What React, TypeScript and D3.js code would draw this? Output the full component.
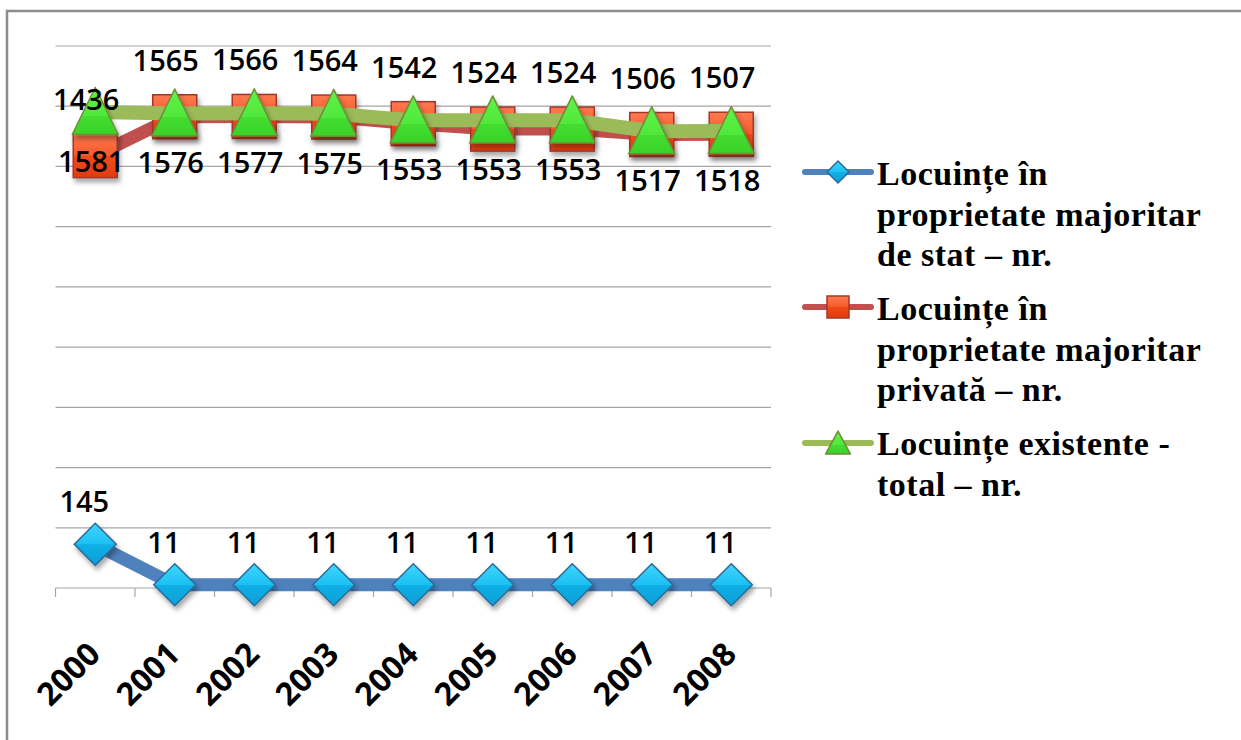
import React from 'react';
import * as d3 from 'd3';

const years = ['2000', '2001', '2002', '2003', '2004', '2005', '2006', '2007', '2008'];
const stateOwned = [145, 11, 11, 11, 11, 11, 11, 11, 11];
const privateOwned = [1436, 1565, 1566, 1564, 1542, 1524, 1524, 1506, 1507];
const totalDwellings = [1581, 1576, 1577, 1575, 1553, 1553, 1553, 1517, 1518];
const yTicks = [0, 200, 400, 600, 800, 1000, 1200, 1400, 1600, 1800];
const legendState = ['Locuințe în', 'proprietate majoritar', 'de stat – nr.'];
const legendPrivate = ['Locuințe în', 'proprietate majoritar', 'privată – nr.'];
const legendTotal = ['Locuințe existente -', 'total – nr.'];

const W = 1241;
const H = 740;
const plot = { left: 55.5, right: 771, top: 46, bottom: 588 };

const x = d3.scaleBand<string>().domain(years).range([plot.left, plot.right]).paddingInner(0).paddingOuter(0);
const y = d3.scaleLinear().domain([0, 1800]).range([plot.bottom, plot.top]);
const cx = (d: string) => (x(d) as number) + x.bandwidth() / 2;

const line = d3
  .line<number>()
  .x((_, i) => cx(years[i]))
  .y((v) => y(v));

const labelFont = '"Open Sans", "Liberation Sans", sans-serif';
const legendFont = '"Liberation Serif", "Times New Roman", serif';

function Diamond({ px, py, r, shadow }: { px: number; py: number; r: number; shadow?: boolean }) {
  const p = `M${px},${py - r}L${px + r},${py}L${px},${py + r}L${px - r},${py}Z`;
  return <path d={p} fill="url(#gBlue)" stroke="#2d6a98" strokeWidth={1.5} filter={shadow ? 'url(#shadow)' : undefined} />;
}
function Square({ px, py, s, shadow }: { px: number; py: number; s: number; shadow?: boolean }) {
  return (
    <rect x={px - s / 2} y={py - s / 2} width={s} height={s} fill="url(#gRed)" stroke="#a0382a" strokeWidth={1.5} filter={shadow ? 'url(#shadow)' : undefined} />
  );
}
function Triangle({ px, py, w, h, shadow }: { px: number; py: number; w: number; h: number; shadow?: boolean }) {
  const p = `M${px},${py - h * 0.52}L${px + w / 2},${py + h * 0.48}L${px - w / 2},${py + h * 0.48}Z`;
  return <path d={p} fill="url(#gGreen)" stroke="#6f8c36" strokeWidth={1.5} strokeLinejoin="round" filter={shadow ? 'url(#shadow)' : undefined} />;
}

export default function App() {
  const legendX = 805;
  const legendTextX = 877;
  return (
    <svg width={W} height={H} style={{ position: 'absolute', left: 0, top: 0, background: '#fff' }}>
      <defs>
        <filter id="shadow" x="-30%" y="-30%" width="170%" height="170%">
          <feDropShadow dx="2" dy="4" stdDeviation="2.5" floodColor="#000" floodOpacity="0.35" />
        </filter>
        <linearGradient id="gBlue" x1="0" y1="0" x2="0" y2="1">
          <stop offset="0" stopColor="#3fd6ff" />
          <stop offset="0.5" stopColor="#1cc0f2" />
          <stop offset="0.5" stopColor="#12b0e6" />
          <stop offset="1" stopColor="#0a9fd8" />
        </linearGradient>
        <linearGradient id="gRed" x1="0" y1="0" x2="0" y2="1">
          <stop offset="0" stopColor="#ff7a50" />
          <stop offset="0.5" stopColor="#f75a2a" />
          <stop offset="0.5" stopColor="#f04a18" />
          <stop offset="1" stopColor="#e23c10" />
        </linearGradient>
        <linearGradient id="gGreen" x1="0" y1="0" x2="0" y2="1">
          <stop offset="0" stopColor="#62f24a" />
          <stop offset="0.6" stopColor="#4fe83a" />
          <stop offset="0.6" stopColor="#44dd30" />
          <stop offset="1" stopColor="#3ad22a" />
        </linearGradient>
      </defs>

      {/* outer frame */}
      <rect x={7} y={11} width={1300} height={800} fill="#fff" stroke="#8c8c8c" strokeWidth={2.5} />

      {/* gridlines */}
      {yTicks.map((t) => (
        <line key={t} x1={plot.left} x2={plot.right} y1={y(t)} y2={y(t)} stroke="#a6a6a6" strokeWidth={1.2} />
      ))}
      {/* x ticks */}
      {[...years.map((d) => x(d) as number), plot.right].map((tx, i) => (
        <line key={i} x1={tx} x2={tx} y1={plot.bottom} y2={plot.bottom + 9} stroke="#a6a6a6" strokeWidth={1.2} />
      ))}
      {/* x labels */}
      {years.map((d) => (
        <text
          key={d}
          transform={`translate(${cx(d) + 7},${plot.bottom + 68}) rotate(-45)`}
          textAnchor="end"
          fontFamily={labelFont}
          fontWeight={700}
          fontSize={32}
          fill="#000"
        >
          {d}
        </text>
      ))}

      {/* state series */}
      <path d={line(stateOwned) || ''} fill="none" stroke="#4f81bd" strokeWidth={13} strokeLinejoin="round" />
      {stateOwned.map((v, i) => (
        <Diamond key={i} px={cx(years[i])} py={y(v)} r={21} shadow />
      ))}
      {/* private series */}
      <path d={line(privateOwned) || ''} fill="none" stroke="#c0504d" strokeWidth={13} strokeLinejoin="round" />
      {privateOwned.map((v, i) => (
        <Square key={i} px={cx(years[i])} py={y(v)} s={44} shadow />
      ))}
      {/* total series */}
      <path d={line(totalDwellings) || ''} fill="none" stroke="#9bbb59" strokeWidth={14} strokeLinejoin="round" />
      {totalDwellings.map((v, i) => (
        <Triangle key={i} px={cx(years[i])} py={y(v)} w={46} h={47} shadow />
      ))}

      {/* data labels */}
      {stateOwned.map((v, i) => (
        <text key={'s' + i} x={cx(years[i]) - 11} y={y(v) - 32} textAnchor="middle" fontFamily={labelFont} fontSize={29} fontWeight={600} fill="#000">
          {v}
        </text>
      ))}
      {privateOwned.map((v, i) => (
        <text key={'p' + i} x={cx(years[i]) - 9} y={y(v) - 46} textAnchor="middle" fontFamily={labelFont} fontSize={29} fontWeight={600} fill="#000">
          {v}
        </text>
      ))}
      {totalDwellings.map((v, i) => (
        <text key={'t' + i} x={cx(years[i]) - 4} y={y(v) + 60} textAnchor="middle" fontFamily={labelFont} fontSize={29} fontWeight={600} fill="#000">
          {v}
        </text>
      ))}

      {/* legend */}
      <g fontFamily={legendFont} fontWeight={700} fontSize={34} fill="#000" letterSpacing={0.5}>
        <line x1={legendX} x2={legendX + 66} y1={172} y2={172} stroke="#4f81bd" strokeWidth={6} strokeLinecap="round" />
        <Diamond px={legendX + 33} py={172} r={11} />
        {legendState.map((t, i) => (
          <text key={t + i} x={legendTextX} y={185 + i * 40.5}>
            {t}
          </text>
        ))}
        <line x1={legendX} x2={legendX + 66} y1={307} y2={307} stroke="#c0504d" strokeWidth={6} strokeLinecap="round" />
        <Square px={legendX + 33} py={307} s={22} />
        {legendPrivate.map((t, i) => (
          <text key={t + i} x={legendTextX} y={320 + i * 40.5}>
            {t}
          </text>
        ))}
        <line x1={legendX} x2={legendX + 66} y1={443} y2={443} stroke="#9bbb59" strokeWidth={6} strokeLinecap="round" />
        <Triangle px={legendX + 33} py={443} w={25} h={23} />
        {legendTotal.map((t, i) => (
          <text key={t + i} x={legendTextX} y={455 + i * 40.5}>
            {t}
          </text>
        ))}
      </g>
    </svg>
  );
}
